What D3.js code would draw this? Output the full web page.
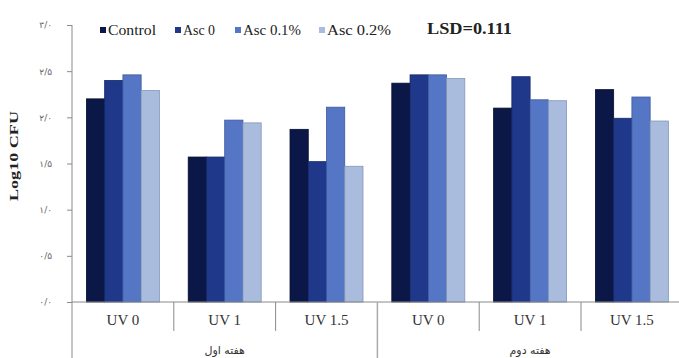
<!DOCTYPE html>
<html>
<head>
<meta charset="utf-8">
<script src="https://cdn.jsdelivr.net/npm/d3@7"></script>
<style>
  html, body { margin: 0; padding: 0; background: #fff; }
  svg { display: block; }
</style>
</head>
<body>
<svg id="chart" width="679" height="358"></svg>
<script>
// Log10 CFU by UV dose and ascorbic-acid level, for two weeks
const groups = ["هفته اول", "هفته دوم"];
const doses = ["UV 0", "UV 1", "UV 1.5"];
const seriesNames = ["Control", "Asc 0", "Asc 0.1%", "Asc 0.2%"];
const seriesColors = ["#0b1747", "#1f3889", "#5476c4", "#a9bcde"];
const seriesStroke = ["#060d2c", "#15276a", "#3c5a9f", "#8396b8"];

const control = [2.20, 1.57, 1.87, 2.37, 2.10, 2.30];
const asc0    = [2.40, 1.57, 1.52, 2.46, 2.44, 1.99];
const asc01   = [2.46, 1.97, 2.11, 2.46, 2.19, 2.22];
const asc02   = [2.29, 1.94, 1.47, 2.42, 2.18, 1.96];
const seriesValues = [control, asc0, asc01, asc02];

const yTicks = [0, 0.5, 1, 1.5, 2, 2.5, 3];
const yTickLabels = ["۰/۰", "۰/۵", "۱/۰", "۱/۵", "۲/۰", "۲/۵", "۳/۰"];
const lsdText = "LSD=0.111";

const svg = d3.select("#chart");
const W = 679, H = 358;
const x0 = 72, catW = 101.8;
const yTop = 25, yBase = 302;

const categories = [];
groups.forEach((g, gi) => doses.forEach((d, di) => categories.push({ g, gi, d, di, key: gi + "|" + d })));

const x = d3.scaleBand().domain(categories.map(c => c.key))
  .range([x0, x0 + catW * categories.length]).paddingInner(0).paddingOuter(0);
const xs = d3.scaleBand().domain(seriesNames).range([0, x.bandwidth()])
  .paddingInner(0).paddingOuter(0.79);
const y = d3.scaleLinear().domain([0, 3]).range([yBase, yTop]);

// bars
seriesNames.forEach((s, si) => {
  svg.append("g").selectAll("rect")
    .data(categories.map((c, i) => ({ c, v: seriesValues[si][i] })))
    .join("rect")
    .attr("x", d => x(d.c.key) + xs(s))
    .attr("width", xs.bandwidth())
    .attr("y", d => y(d.v))
    .attr("height", d => y(0) - y(d.v))
    .attr("fill", seriesColors[si])
    .attr("stroke", seriesStroke[si])
    .attr("stroke-width", 0.8);
});

// y axis
const yAxis = d3.axisLeft(y).tickValues(yTicks)
  .tickFormat((d, i) => yTickLabels[i]).tickSize(5).tickSizeOuter(0);
const gy = svg.append("g").attr("transform", `translate(${x0},0)`).call(yAxis);
gy.select(".domain").remove();
gy.selectAll(".tick line").attr("stroke", "#8a8a8a");
gy.selectAll(".tick text").attr("x", -20)
  .attr("font-family", "DejaVu Sans, sans-serif").attr("font-size", 9).attr("fill", "#666");
svg.append("line").attr("x1", x0).attr("x2", x0).attr("y1", yTop).attr("y2", H)
  .attr("stroke", "#8a8a8a").attr("stroke-width", 1);

// category axis
svg.append("line").attr("x1", x0).attr("x2", W).attr("y1", yBase).attr("y2", yBase)
  .attr("stroke", "#8a8a8a");
categories.forEach((c, i) => {
  if (i > 0) {
    const bx = x(c.key);
    svg.append("line").attr("x1", bx).attr("x2", bx).attr("y1", yBase)
      .attr("y2", c.di === 0 ? H : yBase + 29)
      .attr("stroke", c.di === 0 ? "#aaa" : "#8a8a8a").attr("stroke-width", c.di === 0 ? 1.5 : 1);
  }
  svg.append("text").attr("x", x(c.key) + x.bandwidth() / 2).attr("y", yBase + 23)
    .attr("text-anchor", "middle").attr("font-family", "Liberation Serif, serif")
    .attr("font-size", 15).attr("fill", "#333").text(c.d);
});
groups.forEach((g, gi) => {
  const first = x(gi + "|" + doses[0]);
  const last = x(gi + "|" + doses[doses.length - 1]) + x.bandwidth();
  svg.append("text").attr("x", (first + last) / 2).attr("y", 354)
    .attr("text-anchor", "middle").attr("font-family", "DejaVu Sans, sans-serif")
    .attr("font-size", 11).attr("fill", "#333").text(g);
});

// y title
svg.append("text").attr("transform", `translate(18,${156}) rotate(-90)`)
  .attr("text-anchor", "middle").attr("font-family", "Liberation Serif, serif")
  .attr("font-weight", "bold").attr("font-size", 13).attr("fill", "#222")
  .attr("textLength", 90).attr("lengthAdjust", "spacingAndGlyphs").text("Log10 CFU");

// legend
const legendX = [100, 175, 235, 319];
const legendTextW = [48, 32, 58, 64];
seriesNames.forEach((s, si) => {
  const lg = svg.append("g").attr("transform", `translate(${legendX[si]},35)`);
  lg.append("rect").attr("x", 0).attr("y", -8).attr("width", 6).attr("height", 6)
    .attr("fill", seriesColors[si]);
  lg.append("text").attr("x", 8).attr("y", 0).attr("font-family", "Liberation Serif, serif")
    .attr("font-size", 14).attr("fill", "#222")
    .attr("textLength", legendTextW[si]).attr("lengthAdjust", "spacingAndGlyphs").text(s);
});
svg.append("text").attr("x", 427).attr("y", 34).attr("font-family", "Liberation Serif, serif")
  .attr("font-weight", "bold").attr("font-size", 16).attr("fill", "#222")
  .attr("textLength", 85).attr("lengthAdjust", "spacingAndGlyphs").text(lsdText);
</script>
</body>
</html>
